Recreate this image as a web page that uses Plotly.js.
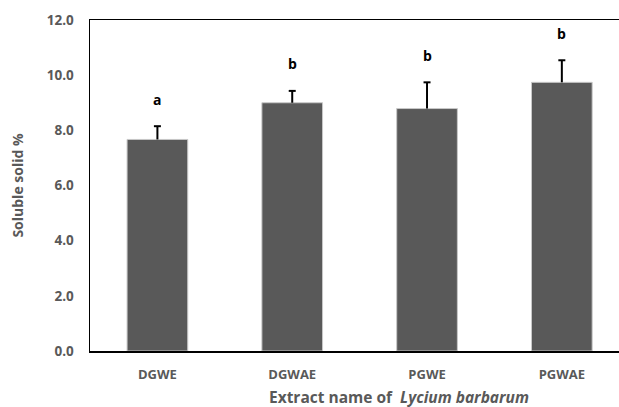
<!DOCTYPE html>
<html>
<head>
<meta charset="utf-8">
<script src="https://cdn.plot.ly/plotly-3.0.1.min.js"></script>
<style>html,body{margin:0;padding:0;background:#fff;}#chart{width:619px;height:407px;}</style>
</head>
<body>
<div id="chart"></div>
<script>
const categories = ["DGWE", "DGWAE", "PGWE", "PGWAE"];
const values = [7.67, 9.00, 8.79, 9.74];
const errors = [0.48, 0.43, 0.95, 0.80];
const letters = ["a", "b", "b", "b"];
const yTicks = [0, 2, 4, 6, 8, 10, 12];

const textColor = "#595959";
const fontFamily = "'Open Sans', sans-serif";

const xIdx = categories.map((c, i) => i);

const barTrace = {
  type: "bar",
  x: xIdx,
  y: values,
  width: 0.45,
  marker: { color: "#595959", line: { color: "#c8c8c8", width: 1 } },
  error_y: {
    type: "data",
    array: errors,
    arrayminus: errors.map(() => 0),
    symmetric: false,
    color: "#000000",
    thickness: 2,
    width: 0
  },
  hoverinfo: "skip"
};

// top caps of the error bars
const capTrace = {
  type: "scatter",
  mode: "markers",
  x: xIdx,
  y: values.map((v, i) => v + errors[i]),
  marker: { symbol: "line-ew", size: 5, line: { color: "#000000", width: 2 } },
  hoverinfo: "skip"
};

const annotations = letters.map((t, i) => ({
  x: i, y: values[i] + errors[i],
  xref: "x", yref: "y",
  text: "<b>" + t + "</b>",
  showarrow: false,
  yshift: 27,
  yanchor: "middle",
  font: { family: fontFamily, size: 14, color: "#000000" }
}));

annotations.push({
  xref: "paper", yref: "paper",
  x: 0.585, y: 0, yshift: -46,
  xanchor: "center", yanchor: "middle",
  showarrow: false,
  text: "<b>Extract name of  <i>Lycium barbarum</i></b>",
  font: { family: fontFamily, size: 15.5, color: textColor }
});

const layout = {
  width: 619, height: 407,
  margin: { l: 90, r: 0, t: 20, b: 56 },
  paper_bgcolor: "#ffffff",
  plot_bgcolor: "#ffffff",
  showlegend: false,
  xaxis: {
    range: [-0.5, 3.424],
    tickvals: xIdx,
    ticktext: categories.map(c => "<b>" + c + "</b>"),
    showgrid: false, zeroline: false,
    showline: true, linecolor: "#000000", linewidth: 1.5, mirror: true,
    ticks: "", ticklabelstandoff: 11,
    tickfont: { family: fontFamily, size: 13, color: textColor },
    fixedrange: true
  },
  yaxis: {
    range: [0, 12],
    tickvals: yTicks,
    ticktext: yTicks.map(v => "<b>" + v.toFixed(1) + "</b>"),
    showgrid: false, zeroline: false,
    showline: true, linecolor: "#000000", linewidth: 1.5,
    ticks: "", ticklabelstandoff: 12,
    tickfont: { family: fontFamily, size: 13.5, color: textColor },
    title: { text: "<b>Soluble solid %</b>", standoff: 20,
             font: { family: fontFamily, size: 14, color: textColor } },
    fixedrange: true
  },
  annotations: annotations
};

Plotly.newPlot("chart", [barTrace, capTrace], layout, { displayModeBar: false, staticPlot: true });
</script>
</body>
</html>
